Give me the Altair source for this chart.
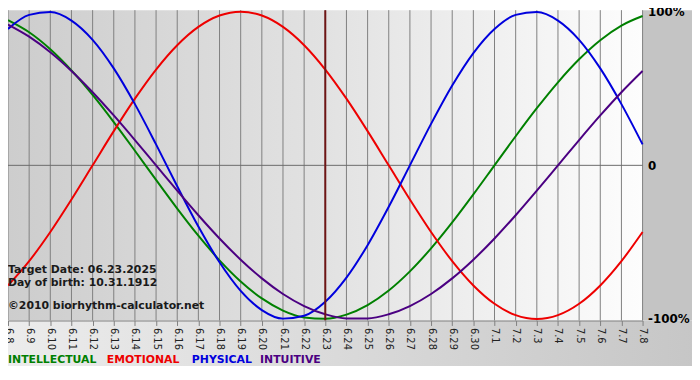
import altair as alt
import pandas as pd

dates = ["6.8", "6.9", "6.10", "6.11", "6.12", "6.13", "6.14", "6.15", "6.16", "6.17",
         "6.18", "6.19", "6.20", "6.21", "6.22", "6.23", "6.24", "6.25", "6.26", "6.27",
         "6.28", "6.29", "6.30", "7.1", "7.2", "7.3", "7.4", "7.5", "7.6", "7.7", "7.8"]

intellectual = [0.9450, 0.8660, 0.7557, 0.6182, 0.4582, 0.2817, 0.0951, -0.0951, -0.2817, -0.4582,
                -0.6182, -0.7557, -0.8660, -0.9450, -0.9898, -0.9989, -0.9718, -0.9096, -0.8146, -0.6901,
                -0.5406, -0.3717, -0.1893, 0.0, 0.1893, 0.3717, 0.5406, 0.6901, 0.8146, 0.9096, 0.9718]
emotional = [-0.7818, -0.6235, -0.4339, -0.2225, 0.0, 0.2225, 0.4339, 0.6235, 0.7818, 0.9010,
             0.9749, 1.0, 0.9749, 0.9010, 0.7818, 0.6235, 0.4339, 0.2225, 0.0, -0.2225,
             -0.4339, -0.6235, -0.7818, -0.9010, -0.9749, -1.0, -0.9749, -0.9010, -0.7818, -0.6235, -0.4339]
physical = [0.8879, 0.9791, 0.9977, 0.9423, 0.8170, 0.6310, 0.3984, 0.1362, -0.1362, -0.3984,
            -0.6310, -0.8170, -0.9423, -0.9977, -0.9791, -0.8879, -0.7308, -0.5196, -0.2698, 0.0,
            0.2698, 0.5196, 0.7308, 0.8879, 0.9791, 0.9977, 0.9423, 0.8170, 0.6310, 0.3984, 0.1362]
intuitive = [0.9158, 0.8372, 0.7357, 0.6142, 0.4759, 0.3247, 0.1646, 0.0, -0.1646, -0.3247,
             -0.4759, -0.6142, -0.7357, -0.8372, -0.9158, -0.9694, -0.9966, -0.9966, -0.9694, -0.9158,
             -0.8372, -0.7357, -0.6142, -0.4759, -0.3247, -0.1646, 0.0, 0.1646, 0.3247, 0.4759, 0.6142]

series_names = ["INTELLECTUAL", "EMOTIONAL", "PHYSICAL", "INTUITIVE"]
series_colors = ["#008000", "#ee0000", "#0000dd", "#4b0082"]
target_date = "6.23"
y_ticks = [-1, 0, 1]

rows = []
for name, vals in zip(series_names, [intellectual, emotional, physical, intuitive]):
    for d, v in zip(dates, vals):
        rows.append({"date": d, "value": v, "series": name})
df = pd.DataFrame(rows)
dates_df = pd.DataFrame({"date": dates})
one = pd.DataFrame({"a": [0]})

W, H = 642, 314
FONT = "DejaVu Sans"

xscale = alt.Scale(type="point", padding=0)
yscale = alt.Scale(domain=[-1.01, 1.01], nice=False)

bg_plot = alt.Chart(one).mark_rect(
    color=alt.Gradient(gradient="linear", x1=0, x2=1, y1=0, y2=0,
                       stops=[alt.GradientStop(color="#cdcdcd", offset=0),
                              alt.GradientStop(color="#e2e2e2", offset=0.5),
                              alt.GradientStop(color="#fdfdfd", offset=1)])
).encode(x=alt.value(0), x2=alt.value(W), y=alt.value(0), y2=alt.value(H))

bg_right = alt.Chart(one).mark_rect(color="#c4c4c4").encode(
    x=alt.value(W), x2=alt.value(W + 60), y=alt.value(0), y2=alt.value(H))

bg_bottom = alt.Chart(one).mark_rect(
    color=alt.Gradient(gradient="linear", x1=0, x2=1, y1=0, y2=0,
                       stops=[alt.GradientStop(color="#ececec", offset=0),
                              alt.GradientStop(color="#c6c6c6", offset=1)])
).encode(x=alt.value(0), x2=alt.value(W + 60), y=alt.value(H), y2=alt.value(H + 46))

grid = alt.Chart(dates_df).mark_rule(color="#808080", strokeWidth=1).encode(
    x=alt.X("date:O", sort=dates, scale=xscale,
            axis=alt.Axis(title=None, labelAngle=90, labelAlign="left", labelBaseline="middle",
                          labelFont=FONT, labelFontSize=10, labelColor="#222222",
                          tickColor="#808080", tickSize=5, domainColor="#808080",
                          labelPadding=2, grid=False, zindex=1)),
)

zero = alt.Chart(one).mark_rule(color="#6a6a6a", strokeWidth=1).encode(
    y=alt.datum(0, scale=yscale))

target = alt.Chart(pd.DataFrame({"date": [target_date]})).mark_rule(
    color="#6e1515", strokeWidth=2).encode(x=alt.X("date:O", sort=dates, scale=xscale))

lines = alt.Chart(df).mark_line(strokeWidth=2, interpolate="monotone").encode(
    x=alt.X("date:O", sort=dates, scale=xscale),
    y=alt.Y("value:Q", scale=yscale,
            axis=alt.Axis(orient="right", values=y_ticks, title=None, grid=False, ticks=False,
                          domain=False, labelFont=FONT, labelFontSize=12, labelFontWeight="bold",
                          labelColor="#000000", labelPadding=5, zindex=1,
                          labelExpr="datum.value == 1 ? '100%' : datum.value == -1 ? '-100%' : '0'")),
    color=alt.Color("series:N", scale=alt.Scale(domain=series_names, range=series_colors), legend=None),
)


def txt(s, x, y, color="#1a1a1a", size=11):
    return alt.Chart(one).mark_text(text=s, color=color, font=FONT, fontSize=size,
                                    fontWeight="bold", align="left", baseline="middle").encode(
        x=alt.value(x), y=alt.value(y))


annots = [
    txt("Target Date: 06.23.2025", 0, 263),
    txt("Day of birth: 10.31.1912", 0, 276),
    txt("\u00a92010 biorhythm-calculator.net", 0, 299),
    txt("INTELLECTUAL", 0, 354, series_colors[0]),
    txt("EMOTIONAL", 100, 354, series_colors[1]),
    txt("PHYSICAL", 186, 354, series_colors[2]),
    txt("INTUITIVE", 255, 354, series_colors[3]),
]

chart = alt.layer(bg_right, bg_bottom, bg_plot, grid, zero, lines, target, *annots).properties(
    width=W, height=H,
    autosize=alt.AutoSizeParams(type="none"),
    padding={"left": 0, "top": 0, "right": 50, "bottom": 58},
    background="#ffffff",
).configure_view(stroke=None)

chart.save("out.html", embed_options={"renderer": "svg", "actions": False})
